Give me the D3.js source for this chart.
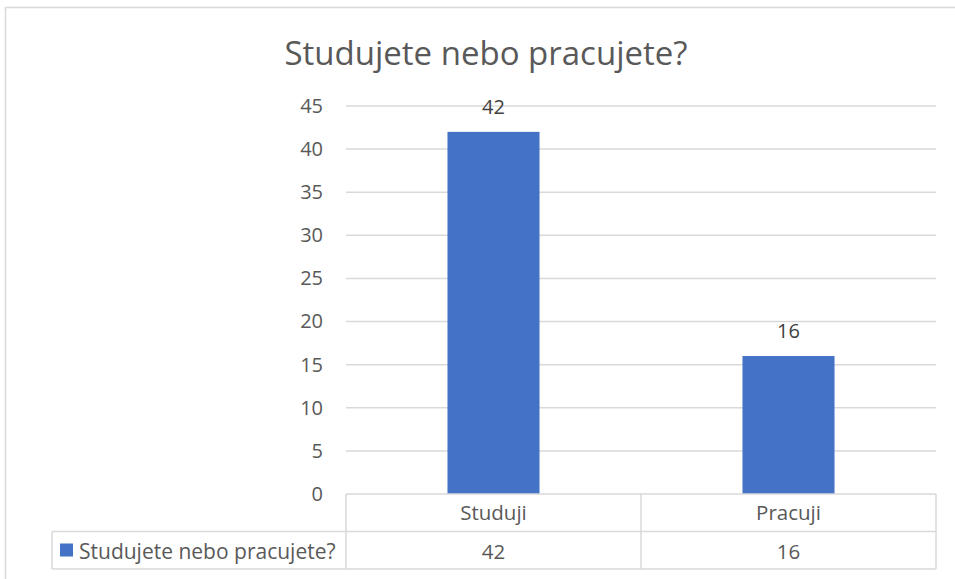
<!DOCTYPE html>
<html>
<head>
<meta charset="utf-8">
<script src="https://cdn.jsdelivr.net/npm/d3@7"></script>
<style>
  body { margin: 0; background: #fff; }
  svg { display: block; }
  text { font-family: "Open Sans", Lato, sans-serif; fill: #595959; }
</style>
</head>
<body>
<svg id="chart"></svg>
<script>
// Données du graphique
const titleText = "Studujete nebo pracujete?";
const seriesName = "Studujete nebo pracujete?";
const categories = ["Studuji", "Pracuji"];
const values = [42, 16];
const yTicks = [0, 5, 10, 15, 20, 25, 30, 35, 40, 45];

const width = 955;
const height = 579;
const plot = { left: 346, right: 936, top: 106, bottom: 494 };
const rowH = 37.5;
const legendLeft = 52;
const grid = "#d9d9d9";
const barColor = "#4472c4";

const svg = d3.select("#chart").attr("width", width).attr("height", height);

// Cadre du graphique
svg.append("path")
  .attr("d", `M5.5,${height} V7.5 H${width}`)
  .attr("fill", "none")
  .attr("stroke", grid)
  .attr("stroke-width", 1.5);

// Titre
svg.append("text")
  .attr("x", 486)
  .attr("y", 65)
  .attr("text-anchor", "middle")
  .style("font-size", "33px")
  .style("font-weight", 400)
  .text(titleText);

// Échelles
const x = d3.scaleBand()
  .domain(categories)
  .range([plot.left, plot.right]);

const y = d3.scaleLinear()
  .domain([0, 45])
  .range([plot.bottom, plot.top]);

const barW = x.bandwidth() * 0.312;

// Grille horizontale
svg.append("g")
  .selectAll("line")
  .data(yTicks.filter((d) => d > 0))
  .join("line")
  .attr("x1", plot.left)
  .attr("x2", plot.right)
  .attr("y1", (d) => y(d))
  .attr("y2", (d) => y(d))
  .attr("stroke", grid)
  .attr("stroke-width", 1.5);

// Axe Y
const yAxis = svg.append("g")
  .attr("transform", `translate(${plot.left},0)`)
  .call(d3.axisLeft(y).tickValues(yTicks).tickSize(0).tickPadding(23));
yAxis.select(".domain").remove();
yAxis.selectAll("text")
  .style("font-size", "20px")
  .style("font-family", "'Open Sans', sans-serif")
  .attr("fill", "#595959");

// Barres
svg.append("g")
  .selectAll("rect")
  .data(values)
  .join("rect")
  .attr("x", (d, i) => x(categories[i]) + x.bandwidth() / 2 - barW / 2)
  .attr("y", (d) => y(d))
  .attr("width", barW)
  .attr("height", (d) => y(0) - y(d))
  .attr("fill", barColor);

// Étiquettes de données
svg.append("g")
  .selectAll("text")
  .data(values)
  .join("text")
  .attr("x", (d, i) => x(categories[i]) + x.bandwidth() / 2)
  .attr("y", (d) => y(d) - 18)
  .attr("text-anchor", "middle")
  .style("font-size", "20px")
  .style("fill", "#404040")
  .text((d) => d);

// Tableau de données
const table = svg.append("g")
  .attr("fill", "none")
  .attr("stroke", grid)
  .attr("stroke-width", 1.5);

const row1 = plot.bottom + rowH;
const row2 = row1 + rowH;

table.append("line")
  .attr("x1", plot.left).attr("x2", plot.right)
  .attr("y1", plot.bottom).attr("y2", plot.bottom);
table.append("line")
  .attr("x1", legendLeft).attr("x2", plot.right)
  .attr("y1", row1).attr("y2", row1);
table.append("line")
  .attr("x1", legendLeft).attr("x2", plot.right)
  .attr("y1", row2).attr("y2", row2);
table.append("line")
  .attr("x1", legendLeft).attr("x2", legendLeft)
  .attr("y1", row1).attr("y2", row2);
table.selectAll(".vcol")
  .data(categories.map((c) => x(c)).concat([plot.right]))
  .join("line")
  .attr("x1", (d) => d).attr("x2", (d) => d)
  .attr("y1", plot.bottom).attr("y2", row2);

// Libellés des catégories
svg.append("g")
  .selectAll("text")
  .data(categories)
  .join("text")
  .attr("x", (d) => x(d) + x.bandwidth() / 2)
  .attr("y", plot.bottom + 26)
  .attr("text-anchor", "middle")
  .style("font-size", "20.5px")
  .text((d) => d);

// Valeurs du tableau
svg.append("g")
  .selectAll("text")
  .data(values)
  .join("text")
  .attr("x", (d, i) => x(categories[i]) + x.bandwidth() / 2)
  .attr("y", row1 + 27)
  .attr("text-anchor", "middle")
  .style("font-size", "20.5px")
  .text((d) => d);

// Légende
svg.append("rect")
  .attr("x", 60)
  .attr("y", row1 + 12)
  .attr("width", 13)
  .attr("height", 13)
  .attr("fill", barColor);
svg.append("text")
  .attr("x", 79)
  .attr("y", row1 + 27)
  .style("font-size", "21px")
  .text(seriesName);
</script>
</body>
</html>
